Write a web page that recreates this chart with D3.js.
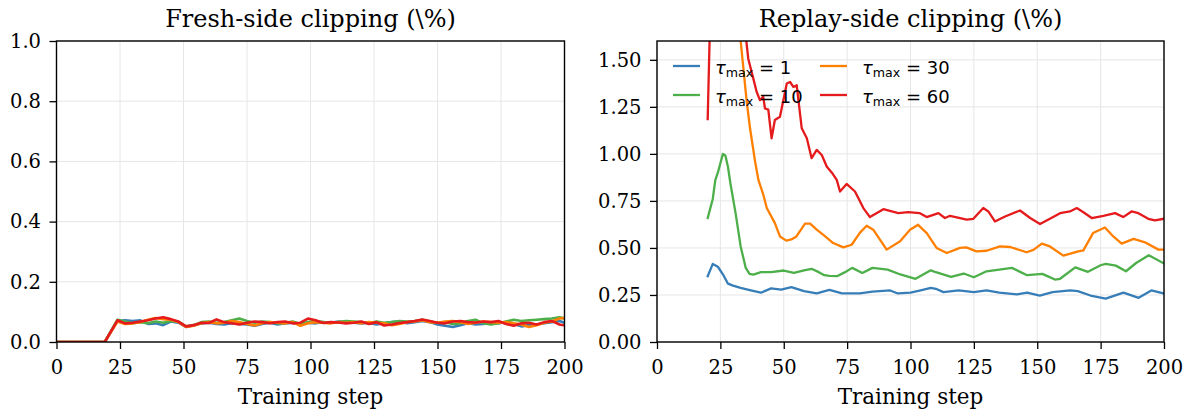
<!DOCTYPE html>
<html><head><meta charset="utf-8">
<script src="https://cdn.jsdelivr.net/npm/d3@7"></script>
<style>body{margin:0;background:#fff} svg{display:block;background:#fff}</style>
</head><body><svg id="c" width="1193" height="410"></svg>
<script>
// ---------------- data ----------------
const tauLabels = ["1", "10", "30", "60"];
const seriesColors = ["#377eb8", "#4daf4a", "#ff7f00", "#e41a1c"];
const xTickValues = [0, 25, 50, 75, 100, 125, 150, 175, 200];
const freshYTicks = [0, 0.2, 0.4, 0.6, 0.8, 1.0];
const replayYTicks = [0, 0.25, 0.5, 0.75, 1.0, 1.25, 1.5];
const titles = ["Fresh-side clipping (\\%)", "Replay-side clipping (\\%)"];
const xLabel = "Training step";

// Fresh-side (left panel): shared steps
const freshSteps = [0, 19, 24, 27, 30, 33, 36, 39, 42, 45, 48, 51, 54, 57, 60, 63, 66, 69, 72, 75, 78, 81, 84, 87, 90, 93, 96, 99, 102, 105, 108, 111, 114, 117, 120, 123, 126, 129, 132, 135, 138, 141, 144, 147, 150, 153, 156, 159, 162, 165, 168, 171, 174, 177, 180, 183, 186, 189, 192, 195, 198, 200];
const freshTau1 = [0, 0, 0.070, 0.072, 0.070, 0.072, 0.060, 0.062, 0.056, 0.068, 0.064, 0.050, 0.056, 0.062, 0.064, 0.060, 0.058, 0.062, 0.060, 0.058, 0.054, 0.060, 0.064, 0.058, 0.062, 0.064, 0.058, 0.064, 0.062, 0.066, 0.064, 0.068, 0.066, 0.064, 0.062, 0.064, 0.058, 0.062, 0.066, 0.068, 0.062, 0.066, 0.070, 0.066, 0.058, 0.054, 0.050, 0.056, 0.062, 0.058, 0.060, 0.064, 0.062, 0.066, 0.060, 0.052, 0.056, 0.058, 0.062, 0.066, 0.070, 0.064];
const freshTau10 = [0, 0, 0.074, 0.068, 0.062, 0.066, 0.062, 0.068, 0.064, 0.070, 0.068, 0.052, 0.056, 0.066, 0.068, 0.064, 0.066, 0.072, 0.078, 0.070, 0.064, 0.068, 0.066, 0.062, 0.064, 0.068, 0.060, 0.066, 0.070, 0.066, 0.064, 0.066, 0.070, 0.068, 0.066, 0.062, 0.068, 0.064, 0.066, 0.070, 0.068, 0.070, 0.074, 0.068, 0.064, 0.066, 0.060, 0.062, 0.070, 0.074, 0.062, 0.058, 0.062, 0.068, 0.074, 0.070, 0.072, 0.074, 0.076, 0.078, 0.082, 0.078];
const freshTau30 = [0, 0, 0.068, 0.060, 0.062, 0.066, 0.074, 0.080, 0.076, 0.074, 0.066, 0.050, 0.054, 0.062, 0.066, 0.062, 0.064, 0.070, 0.066, 0.060, 0.055, 0.062, 0.066, 0.064, 0.062, 0.066, 0.054, 0.062, 0.066, 0.064, 0.062, 0.066, 0.064, 0.066, 0.062, 0.066, 0.064, 0.062, 0.056, 0.060, 0.066, 0.068, 0.072, 0.066, 0.064, 0.068, 0.070, 0.066, 0.060, 0.064, 0.068, 0.066, 0.064, 0.066, 0.062, 0.058, 0.050, 0.056, 0.064, 0.068, 0.078, 0.080];
const freshTau60 = [0, 0, 0.072, 0.062, 0.064, 0.068, 0.072, 0.078, 0.082, 0.076, 0.068, 0.052, 0.056, 0.064, 0.063, 0.075, 0.066, 0.062, 0.058, 0.064, 0.068, 0.066, 0.062, 0.066, 0.068, 0.062, 0.064, 0.078, 0.072, 0.063, 0.066, 0.065, 0.062, 0.064, 0.068, 0.060, 0.066, 0.055, 0.058, 0.063, 0.066, 0.070, 0.075, 0.070, 0.064, 0.062, 0.068, 0.070, 0.066, 0.065, 0.068, 0.066, 0.070, 0.060, 0.054, 0.062, 0.064, 0.058, 0.066, 0.070, 0.058, 0.055];

// Replay-side (right panel): [step, value]
const replayTau1 = [[20,0.35],[22,0.415],[24,0.40],[26,0.36],[28,0.31],[30,0.30],[33,0.288],[37,0.275],[41,0.262],[45,0.285],[49,0.278],[53,0.292],[58,0.27],[63,0.258],[68,0.277],[73,0.258],[80,0.258],[85,0.268],[92,0.274],[95,0.258],[100,0.262],[104,0.275],[108,0.288],[110,0.283],[113,0.265],[119,0.274],[125,0.265],[130,0.274],[135,0.262],[142,0.253],[146,0.262],[151,0.247],[156,0.265],[163,0.274],[166,0.27],[171,0.247],[177,0.231],[184,0.262],[190,0.235],[195,0.274],[200,0.258]];
const replayTau10 = [[20,0.659],[22,0.76],[23,0.86],[24,0.90],[25,0.95],[26,1.0],[27,0.99],[28,0.93],[29,0.84],[31,0.685],[33,0.508],[35,0.394],[36.5,0.362],[38,0.358],[41,0.371],[45,0.371],[50,0.38],[54,0.367],[58,0.381],[61,0.389],[64,0.37],[66,0.355],[68,0.352],[71,0.35],[74,0.37],[77,0.394],[81,0.367],[85,0.394],[91,0.385],[96,0.359],[102,0.336],[108,0.381],[110,0.371],[116,0.346],[121,0.364],[125,0.344],[130,0.376],[135,0.385],[140,0.394],[146,0.355],[152,0.362],[154,0.35],[157,0.332],[159,0.336],[165,0.397],[170,0.373],[175,0.408],[177,0.415],[181,0.406],[185,0.376],[189,0.42],[194,0.461],[200,0.417]];
const replayTau30 = [[20,2.9],[25,2.3],[30,1.85],[33,1.6],[35.4,1.277],[36.7,1.136],[38.7,0.959],[40,0.862],[42,0.78],[43.3,0.712],[46.5,0.632],[48.5,0.561],[51,0.539],[53,0.545],[55,0.561],[58.4,0.629],[60.4,0.629],[63,0.597],[66,0.565],[69.5,0.526],[73.5,0.503],[76.8,0.517],[80,0.58],[82.7,0.618],[85.3,0.597],[90.6,0.491],[95.9,0.535],[99.8,0.597],[103,0.623],[106.4,0.579],[110.3,0.5],[114.3,0.473],[119.5,0.5],[122,0.503],[126,0.482],[130,0.485],[135.3,0.508],[139.3,0.505],[145.8,0.477],[148.5,0.49],[151.8,0.523],[155,0.508],[160.3,0.459],[166.2,0.482],[168.2,0.487],[172,0.579],[176.7,0.609],[180,0.561],[183.3,0.523],[188,0.548],[192.5,0.53],[197.8,0.491],[200,0.491]];
const replayTau60 = [[20,1.185],[21,1.75],[22,2.3],[26,2.5],[30,2.1],[34,1.75],[36,1.506],[38,1.4],[39.3,1.33],[40.6,1.286],[41.9,1.303],[42.6,1.241],[43.9,1.235],[45.2,1.083],[46.5,1.18],[48.5,1.197],[51.2,1.374],[52.5,1.382],[53.8,1.356],[55.1,1.365],[57.1,1.136],[59.1,1.083],[61,0.977],[63,1.021],[65,0.994],[67,0.932],[69,0.90],[70.9,0.862],[72.2,0.8],[74.8,0.84],[78.1,0.8],[81.4,0.712],[84,0.664],[89.3,0.706],[95.2,0.685],[99.1,0.69],[103.7,0.685],[106.4,0.664],[111,0.685],[113.6,0.659],[115.6,0.671],[122.2,0.65],[124.8,0.655],[128.7,0.712],[130.7,0.694],[133.3,0.641],[137.3,0.667],[143.2,0.699],[147.2,0.659],[151.1,0.627],[155,0.655],[159,0.685],[162.9,0.694],[165.6,0.712],[168.2,0.69],[171.5,0.659],[176.1,0.671],[180.7,0.685],[183.9,0.664],[187.2,0.694],[189.9,0.685],[193.8,0.655],[196.4,0.646],[200,0.655]];

// ---------------- drawing ----------------
const svg = d3.select("#c");
const SERIF = "'DejaVu Serif', serif";
const SANS = "'DejaVu Sans', sans-serif";
const plotTop = 41, plotBottom = 342;
const TICK_FS = 19.5, LABEL_FS = 21.5, TITLE_FS = 24;

function panel(idx, x0, x1, yDomain, yTicks, fmt, series, lw) {
  const x = d3.scaleLinear().domain([0, 200]).range([x0, x1]);
  const y = d3.scaleLinear().domain(yDomain).range([plotBottom, plotTop]);
  const g = svg.append("g");
  g.append("g").selectAll("line").data(xTickValues).join("line")
    .attr("x1", d => x(d)).attr("x2", d => x(d)).attr("y1", plotTop).attr("y2", plotBottom)
    .attr("stroke", "#e6e6e6").attr("stroke-width", 1);
  g.append("g").selectAll("line").data(yTicks).join("line")
    .attr("x1", x0).attr("x2", x1).attr("y1", d => y(d)).attr("y2", d => y(d))
    .attr("stroke", "#e6e6e6").attr("stroke-width", 1);
  const cid = "clip" + idx;
  svg.append("defs").append("clipPath").attr("id", cid).append("rect")
    .attr("x", x0).attr("y", plotTop).attr("width", x1 - x0).attr("height", plotBottom - plotTop);
  const line = d3.line().x(d => x(d[0])).y(d => y(d[1]));
  const lg = g.append("g").attr("clip-path", `url(#${cid})`);
  series.forEach((s, i) => {
    lg.append("path").datum(s).attr("d", line).attr("fill", "none")
      .attr("stroke", seriesColors[i]).attr("stroke-width", lw)
      .attr("stroke-linejoin", "round").attr("stroke-linecap", "square");
  });
  const ax = g.append("g").attr("transform", `translate(0,${plotBottom})`)
    .call(d3.axisBottom(x).tickValues(xTickValues).tickSize(7).tickPadding(11).tickFormat(d3.format("d")));
  const ay = g.append("g").attr("transform", `translate(${x0},0)`)
    .call(d3.axisLeft(y).tickValues(yTicks).tickSize(7).tickPadding(8.5).tickFormat(d3.format(fmt)));
  [ax, ay].forEach(a => {
    a.select(".domain").remove();
    a.selectAll(".tick line").attr("stroke", "#000").attr("stroke-width", 1.3);
    a.selectAll("text").attr("font-family", SERIF).attr("font-size", TICK_FS).attr("fill", "#000");
  });
  g.append("rect").attr("x", x0).attr("y", plotTop).attr("width", x1 - x0).attr("height", plotBottom - plotTop)
    .attr("fill", "none").attr("stroke", "#000").attr("stroke-width", 1.4);
  g.append("text").attr("x", (x0 + x1) / 2).attr("y", 27).attr("text-anchor", "middle")
    .attr("font-family", SERIF).attr("font-size", TITLE_FS).text(titles[idx]);
  g.append("text").attr("x", (x0 + x1) / 2).attr("y", 404).attr("text-anchor", "middle")
    .attr("font-family", SERIF).attr("font-size", LABEL_FS).text(xLabel);
  return {x, y};
}

const freshSeries = [freshTau1, freshTau10, freshTau30, freshTau60].map(v => freshSteps.map((s, i) => [s, v[i]]));
panel(0, 56.5, 564.5, [0, 1.0], freshYTicks, ".1f", freshSeries, 2.6);
panel(1, 657, 1164, [0, 1.6], replayYTicks, ".2f", [replayTau1, replayTau10, replayTau30, replayTau60], 2.3);

const leg = svg.append("g");
const colX = [673, 820];
const rowY = [66, 95];
tauLabels.forEach((t, i) => {
  const c = Math.floor(i / 2), r = i % 2;
  const lx = colX[c], ly = rowY[r];
  leg.append("line").attr("x1", lx).attr("x2", lx + 27).attr("y1", ly).attr("y2", ly)
    .attr("stroke", seriesColors[i]).attr("stroke-width", 2.3);
  const tx = leg.append("text").attr("x", lx + 42).attr("y", ly + 8)
    .attr("font-family", SANS).attr("font-size", 18).attr("fill", "#000");
  tx.append("tspan").attr("font-style", "italic").text("τ");
  tx.append("tspan").attr("font-size", 12.6).attr("dy", 3).text("max");
  tx.append("tspan").attr("dy", -3).attr("xml:space", "preserve").text(" = " + t);
});
</script></body></html>
